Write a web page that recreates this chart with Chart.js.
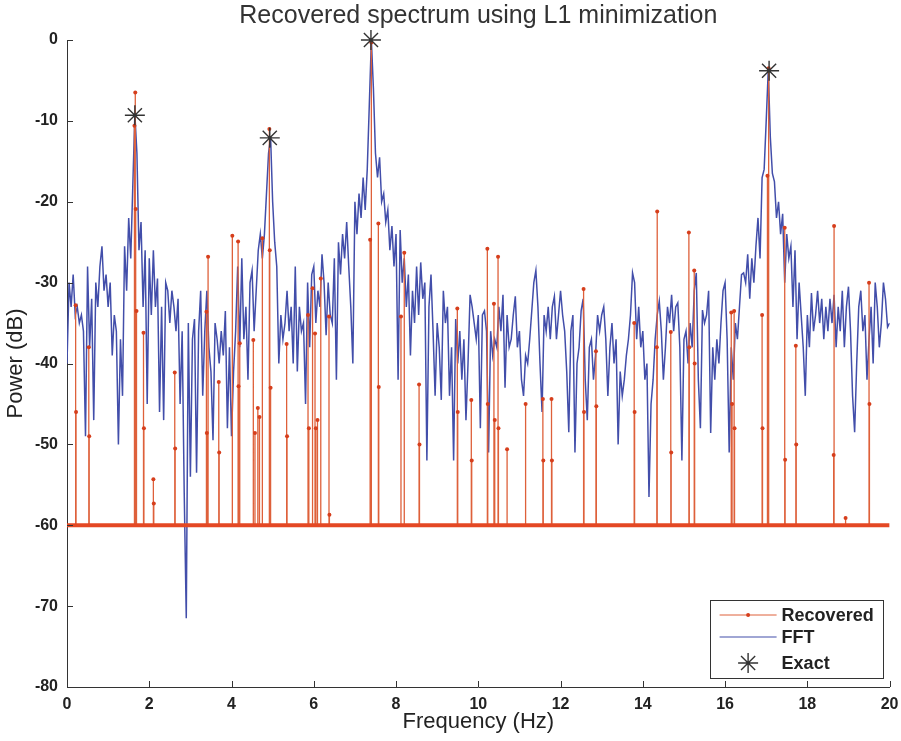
<!DOCTYPE html>
<html>
<head>
<meta charset="utf-8">
<script src="https://cdn.jsdelivr.net/npm/chart.js@4"></script>
<style>
html,body{margin:0;padding:0;background:#ffffff;}
#wrap{width:901px;height:741px;position:relative;}
</style>
</head>
<body>
<div id="wrap"><canvas id="c" width="901" height="741"></canvas></div>
<script>
// ---------------- DATA ----------------
const chartTitle = 'Recovered spectrum using L1 minimization';
const xAxisTitle = 'Frequency (Hz)';
const yAxisTitle = 'Power (dB)';
const seriesNames = ['Recovered', 'FFT', 'Exact'];

const xTicks = [0, 2, 4, 6, 8, 10, 12, 14, 16, 18, 20];
const yTicks = [-80, -70, -60, -50, -40, -30, -20, -10, 0];

// FFT power (dB), sampled every 0.05 Hz from 0 Hz to 20 Hz
const fftStartHz = 0;
const fftStepHz = 0.05;
const fftPower = [
  -40,-30,-33,-29,-34,-33,-35,-34,-36,-49,-28,-38,-32,-47,-30,-33,-28,-25.5,-31,-29,
  -33,-30,-39,-34,-36,-50,-37,-44,-25.5,-31,-22,-27,-18,-9.2,-14,-26,-22.5,-33,-26,-45,
  -27,-34,-26,-33,-29.5,-46,-33,-47,-30,-31,-35,-31,-33,-36,-32,-45,-36,-56,-71.5,-35,
  -54,-37,-34.5,-53.5,-36,-31,-44,-36,-31,-38,-41,-49.5,-35,-37,-40,-36,-39,-33.5,-48,-38,
  -49,-41,-36,-28,-38,-27,-37,-33,-42,-30,-28.5,-36,-31,-26,-24,-27,-24,-19,-14,-12,
  -20,-25,-28,-40,-34,-37,-35,-31,-36,-33,-40,-28,-41,-33,-36,-35,-45,-30,-38,-29,
  -28,-35,-31,-33,-26.5,-30,-36.5,-30,-34,-35,-27,-42,-25,-29,-24,-27,-22.5,-28,-33,-40,
  -20,-24,-19,-22,-17,-21,-16,-8,0,-6,-14,-17,-14.5,-20,-19,-22.5,-21,-26,-23,-28,
  -24,-42,-23.5,-30,-27,-33,-29,-39,-31,-35,-28,-34,-27.5,-32,-30,-52,-33,-29,-36,-44,
  -35,-38,-44.5,-31,-35,-33,-44,-38,-52,-34.5,-40,-36,-42,-37,-47,-40,-31.5,-33,-35,-37,
  -34,-48,-34,-33.5,-36,-51,-36,-39,-37,-38,-33,-36,-31.5,-43,-34,-38,-37,-34,-31.7,-38,
  -36,-42,-44,-39,-40,-37,-33.5,-30,-28.5,-33,-40,-46,-34,-36,-33,-37,-33,-31.7,-37,-34,
  -31,-34,-36,-41,-48.5,-36,-34,-51,-40,-38,-33.5,-32,-42,-47,-38,-37,-42,-39,-34,-36,
  -34,-33,-37,-44,-38,-35,-40,-37,-50,-41,-44,-42,-39,-37,-34,-28.8,-30,-37,-33,-38,
  -36,-42,-40,-56.5,-45,-42,-37,-34,-32.3,-36,-42,-38,-33,-35,-31.5,-36,-33,-32.5,-38,-52,
  -37,-36,-40,-35,-38,-31,-28.8,-42,-48,-33.4,-35,-34,-31,-48.6,-38,-42,-37,-40,-35,-31,
  -30,-37,-51,-38,-42,-35,-37,-33,-29,-28.8,-30,-26.5,-32,-27,-30,-25.5,-22,-27,-17,-16,
  -10,-3.7,-12,-16.5,-17.5,-22,-20,-24,-21.5,-30,-24,-27,-25.5,-33,-26,-37,-30,-34,-38,-44,
  -34,-38,-31.3,-36,-34,-31,-35,-32,-37,-33,-36,-32,-35,-31.5,-38,-33,-36,-31,-38,-33,
  -30.5,-36,-44,-48.5,-40,-33,-31,-36,-34,-42,-37,-33,-40,-30,-33,-38,-35,-30,-32,-35.5,
  -35
];

// Recovered (L1) spectrum: floor level and non-floor stems
const recoveredFloor = -60;
const stemFreq = [
  0.21, 0.22, 0.53, 0.54, 1.64, 1.66, 1.67, 1.69, 1.86, 1.87,
  2.10, 2.11, 2.62, 2.63, 3.39, 3.40, 3.43, 3.69, 3.70, 4.02,
  4.16, 4.17, 4.20, 4.53, 4.57, 4.64, 4.68, 4.75, 4.92, 4.93,
  4.95, 5.34, 5.35, 5.86, 5.88, 5.97, 6.03, 6.05, 6.09, 6.17,
  6.37, 6.38, 7.37, 7.40, 7.57, 7.58, 8.12, 8.20, 8.56, 8.57,
  9.49, 9.50, 9.83, 9.84, 10.22, 10.23, 10.38, 10.40, 10.48, 10.49,
  10.70, 11.15, 11.57, 11.58, 11.78, 11.79, 12.56, 12.57, 12.86, 12.87,
  13.79, 13.80, 14.34, 14.35, 14.68, 14.69, 15.12, 15.13, 15.25, 15.26,
  16.15, 16.17, 16.22, 16.23, 16.90, 16.91, 17.03, 17.06, 17.45, 17.46,
  17.72, 17.73, 18.64, 18.65, 18.93, 19.50, 19.51
];
const stemPower = [
  -32.8, -46, -38, -49, -10.6, -6.5, -20.9, -33.5, -36.2, -48,
  -54.3, -57.3, -41.1, -50.5, -33.6, -48.6, -26.8, -42.3, -51, -24.2,
  -24.9, -42.8, -37.5, -37.1, -48.6, -45.5, -46.6, -24.5, -11, -26,
  -43, -37.6, -49, -34, -48, -30.7, -36.3, -48, -47, -29.5,
  -34.2, -58.7, -24.7, -0.3, -22.7, -42.9, -34.2, -26.3, -42.6, -50,
  -33.2, -46, -44.5, -52, -25.8, -45, -32.6, -47, -26.8, -48,
  -50.6, -45, -44.4, -52, -44.4, -52, -30.8, -46, -38.5, -45.3,
  -35, -46, -38, -21.2, -36.1, -51, -23.8, -38, -28.5, -40,
  -33.7, -45, -33.5, -48, -34, -48, -16.8, -3.5, -23.2, -51.9,
  -37.8, -50, -51.3, -23, -59.1, -30, -45
];

// Exact tone locations
const exactFreq = [1.65, 4.93, 7.39, 17.07];
const exactPower = [-9.3, -12.1, 0, -3.8];

// ---------------- STYLE ----------------
const FONT = "'Liberation Sans', Arial, Helvetica, sans-serif";
const COL_FFT = 'rgb(66,78,170)';
const COL_REC = 'rgb(222,96,58)';
const COL_DOT = 'rgb(214,62,28)';
const COL_BASE = 'rgb(228,72,36)';
const COL_EXACT = '#333333';
const COL_AXIS = '#333333';
const COL_TEXT = '#222222';

// ---------------- BUILD ----------------
const fftPoints = fftPower.map((v, i) => ({ x: fftStartHz + i * fftStepHz, y: v }));
const stemSegments = [];
stemFreq.forEach((f, i) => {
  stemSegments.push({ x: f, y: recoveredFloor }, { x: f, y: stemPower[i] }, { x: f, y: null });
});
const stemTops = stemFreq.map((f, i) => ({ x: f, y: stemPower[i] }));
const floorLine = [{ x: xTicks[0], y: recoveredFloor }, { x: xTicks[xTicks.length - 1], y: recoveredFloor }];
const exactPoints = exactFreq.map((f, i) => ({ x: f, y: exactPower[i] }));

function drawAsterisk(ctx, x, y, r) {
  ctx.beginPath();
  ctx.moveTo(x - r, y); ctx.lineTo(x + r, y);
  ctx.moveTo(x, y - r); ctx.lineTo(x, y + r);
  const d = r * Math.SQRT1_2;
  ctx.moveTo(x - d, y - d); ctx.lineTo(x + d, y + d);
  ctx.moveTo(x - d, y + d); ctx.lineTo(x + d, y - d);
  ctx.stroke();
}

const innerTicks = {
  id: 'innerTicks',
  afterDatasetsDraw(chart) {
    const { ctx, chartArea } = chart;
    const xs = chart.scales.x, ys = chart.scales.y;
    ctx.save();
    ctx.strokeStyle = COL_AXIS;
    ctx.lineWidth = 1;
    ctx.beginPath();
    xTicks.forEach(v => {
      const px = Math.round(xs.getPixelForValue(v)) + 0.5;
      ctx.moveTo(px, chartArea.bottom);
      ctx.lineTo(px, chartArea.bottom - 6);
    });
    yTicks.forEach(v => {
      const py = Math.round(ys.getPixelForValue(v)) + 0.5;
      ctx.moveTo(chartArea.left, py);
      ctx.lineTo(chartArea.left + 6, py);
    });
    ctx.stroke();
    ctx.restore();
  }
};

const legendBox = {
  id: 'legendBox',
  afterDraw(chart) {
    const { ctx, chartArea } = chart;
    const w = 173, h = 78;
    const right = chartArea.right - 7, bottom = chartArea.bottom - 9;
    const left = right - w, top = bottom - h;
    ctx.save();
    ctx.fillStyle = '#ffffff';
    ctx.fillRect(left, top, w, h);
    ctx.strokeStyle = COL_AXIS;
    ctx.lineWidth = 1;
    ctx.strokeRect(Math.round(left) + 0.5, Math.round(top) + 0.5, w, h);
    const lx0 = left + 10, lx1 = left + 67, lxm = (lx0 + lx1) / 2;
    const rows = [top + 15, top + 37, top + 63];
    // Recovered
    ctx.strokeStyle = COL_REC; ctx.lineWidth = 1;
    ctx.beginPath(); ctx.moveTo(lx0, rows[0]); ctx.lineTo(lx1, rows[0]); ctx.stroke();
    ctx.fillStyle = COL_DOT;
    ctx.beginPath(); ctx.arc(lxm, rows[0], 2, 0, Math.PI * 2); ctx.fill();
    // FFT
    ctx.strokeStyle = COL_FFT; ctx.lineWidth = 1.2;
    ctx.beginPath(); ctx.moveTo(lx0, rows[1]); ctx.lineTo(lx1, rows[1]); ctx.stroke();
    // Exact
    ctx.strokeStyle = COL_EXACT; ctx.lineWidth = 1.4;
    drawAsterisk(ctx, lxm, rows[2], 10);
    // Text
    ctx.fillStyle = COL_TEXT;
    ctx.font = 'bold 18px ' + FONT;
    ctx.textBaseline = 'middle';
    ctx.textAlign = 'left';
    seriesNames.forEach((s, i) => ctx.fillText(s, left + 72, rows[i] + 1));
    ctx.restore();
  }
};

const ctx = document.getElementById('c').getContext('2d');
new Chart(ctx, {
  type: 'line',
  data: {
    datasets: [
      {
        label: seriesNames[2], data: exactPoints, showLine: false, order: 0, clip: false,
        pointStyle: 'star', pointRadius: 10, pointBorderWidth: 1.4,
        borderColor: COL_EXACT, pointBorderColor: COL_EXACT, backgroundColor: COL_EXACT
      },
      {
        label: 'Recovered markers', data: stemTops, showLine: false, order: 1,
        pointStyle: 'circle', pointRadius: 2, pointBorderWidth: 0,
        pointBackgroundColor: COL_DOT, borderColor: COL_DOT, backgroundColor: COL_DOT
      },
      {
        label: 'Recovered floor', data: floorLine, order: 2,
        borderColor: COL_BASE, borderWidth: 4, pointRadius: 0, fill: false
      },
      {
        label: seriesNames[0], data: stemSegments, order: 3, spanGaps: false,
        borderColor: COL_REC, borderWidth: 1.3, pointRadius: 0, fill: false, tension: 0
      },
      {
        label: seriesNames[1], data: fftPoints, order: 4,
        borderColor: COL_FFT, borderWidth: 1.5, pointRadius: 0, fill: false, tension: 0
      }
    ]
  },
  options: {
    responsive: false,
    animation: false,
    events: [],
    layout: { padding: { left: 0, right: 0, top: 0, bottom: 0 } },
    plugins: {
      legend: { display: false },
      tooltip: { enabled: false },
      title: {
        display: true, text: chartTitle, fullSize: false, color: '#333333',
        font: { family: FONT, size: 25, weight: 'normal' },
        padding: { top: 1, bottom: 9 }
      }
    },
    scales: {
      x: {
        type: 'linear', min: xTicks[0], max: xTicks[xTicks.length - 1],
        afterBuildTicks: s => { s.ticks = xTicks.map(v => ({ value: v })); },
        afterFit: s => { s.height = 54; s.paddingRight = 11; s.paddingLeft = 0; },
        grid: { display: false, drawTicks: false },
        border: { display: true, color: COL_AXIS, width: 1 },
        ticks: { color: COL_TEXT, font: { family: FONT, size: 16, weight: 'bold' }, padding: 8, maxRotation: 0, autoSkip: false },
        title: { display: true, text: xAxisTitle, color: COL_TEXT, font: { family: FONT, size: 22, weight: 'normal' }, padding: { top: 0, bottom: 6 } }
      },
      y: {
        type: 'linear', min: yTicks[0], max: yTicks[yTicks.length - 1],
        afterBuildTicks: s => { s.ticks = yTicks.map(v => ({ value: v })); },
        afterFit: s => { s.width = 67; },
        grid: { display: false, drawTicks: false },
        border: { display: true, color: COL_AXIS, width: 1 },
        ticks: { color: COL_TEXT, font: { family: FONT, size: 16, weight: 'bold' }, padding: 9, autoSkip: false },
        title: { display: true, text: yAxisTitle, color: COL_TEXT, font: { family: FONT, size: 22, weight: 'normal' }, padding: { top: 3, bottom: 0 } }
      }
    }
  },
  plugins: [innerTicks, legendBox]
});
</script>
</body>
</html>
